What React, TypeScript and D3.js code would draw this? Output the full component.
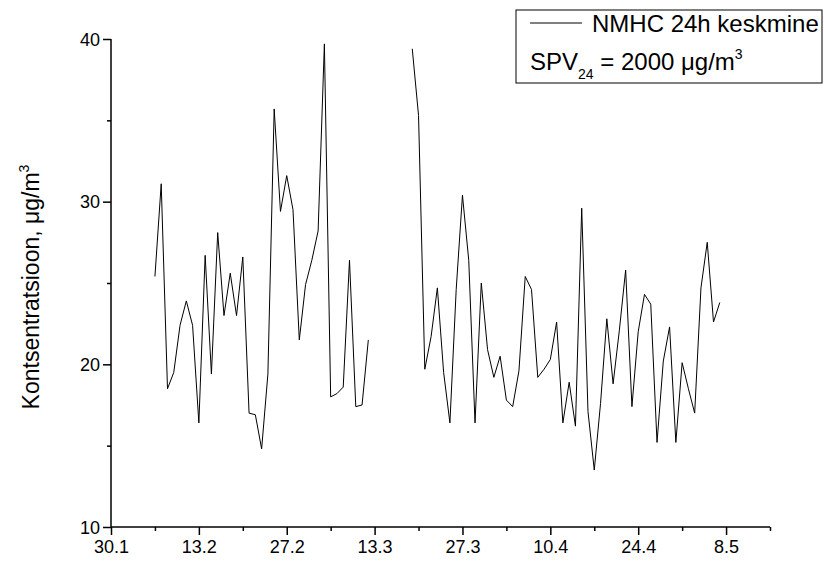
import React, { useEffect, useRef } from "react";
import * as d3 from "d3";

// Day offsets are counted from 30 January (x-axis origin)
const xTickDays = [0, 14, 28, 42, 56, 70, 84, 98];
const xTickLabels = ["30.1", "13.2", "27.2", "13.3", "27.3", "10.4", "24.4", "8.5"];
const yTicks = [10, 20, 30, 40];

const segment1Start = 7;
const segment1Values = [
  25.4, 31.1, 18.5, 19.5, 22.4, 23.9, 22.4, 16.4, 26.7, 19.4,
  28.1, 23.0, 25.6, 23.0, 26.6, 17.0, 16.9, 14.8, 19.4, 35.7,
  29.4, 31.6, 29.5, 21.5, 24.9, 26.4, 28.2, 39.7, 18.0, 18.2,
  18.6, 26.4, 17.4, 17.5, 21.5,
];
const segment2Start = 48;
const segment2Values = [
  39.4, 35.3, 19.7, 21.7, 24.7, 19.5, 16.4, 24.6, 30.4, 26.4,
  16.4, 25.0, 20.9, 19.2, 20.5, 17.8, 17.4, 19.6, 25.4, 24.6,
  19.2, 19.7, 20.3, 22.6, 16.4, 18.9, 16.2, 29.6, 17.1, 13.5,
  17.6, 22.8, 18.8, 22.1, 25.8, 17.4, 22.0, 24.3, 23.7, 15.2,
  20.2, 22.3, 15.2, 20.1, 18.5, 17.0, 24.7, 27.5, 22.6, 23.8,
];

const W = 824;
const H = 565;
const M = { left: 111, right: 770, top: 39, bottom: 527 };
const FONT = "Liberation Sans, Arial, sans-serif";

export default function App() {
  const ref = useRef<SVGSVGElement>(null);
  useEffect(() => {
    const svg = d3.select(ref.current);
    svg.selectAll("*").remove();

    const x = d3.scaleLinear().domain([0, 105]).range([M.left, M.right]);
    const y = d3.scaleLinear().domain([10, 40]).range([M.bottom, M.top]);

    type P = { day: number; v: number };
    const s1: P[] = segment1Values.map((v, i) => ({ day: segment1Start + i, v }));
    const s2: P[] = segment2Values.map((v, i) => ({ day: segment2Start + i, v }));
    const line = d3.line<P>().x((d) => x(d.day)).y((d) => y(d.v));

    [s1, s2].forEach((seg) => {
      svg.append("path").attr("d", line(seg)).attr("fill", "none")
        .attr("stroke", "#000").attr("stroke-width", 1);
    });

    // X axis
    const xAxis = d3.axisBottom(x).tickValues(xTickDays).tickSize(8)
      .tickFormat((d, i) => xTickLabels[i]);
    const gx = svg.append("g").attr("transform", `translate(0,${M.bottom})`).call(xAxis);
    const gxMinor = svg.append("g").attr("transform", `translate(0,${M.bottom})`)
      .call(d3.axisBottom(x).tickValues(xTickDays.map((d) => d + 7)).tickSize(4).tickFormat(() => ""));
    gxMinor.select(".domain").remove();

    // Y axis
    const yAxis = d3.axisLeft(y).tickValues(yTicks).tickSize(8).tickFormat(d3.format("d"));
    const gy = svg.append("g").attr("transform", `translate(${M.left},0)`).call(yAxis);
    const gyMinor = svg.append("g").attr("transform", `translate(${M.left},0)`)
      .call(d3.axisLeft(y).tickValues([15, 25, 35]).tickSize(4).tickFormat(() => ""));
    gyMinor.select(".domain").remove();

    [gx, gy, gxMinor, gyMinor].forEach((g) => {
      g.selectAll("path.domain").attr("stroke", "#000").attr("stroke-width", 1.5);
      g.selectAll(".tick line").attr("stroke", "#000").attr("stroke-width", 1.5);
      g.selectAll(".tick text").attr("font-family", FONT).attr("font-size", 18).attr("fill", "#000");
    });
    gx.select("path.domain").attr("d", `M${M.left},0H${M.right}`);
    gy.select("path.domain").attr("d", `M0,${M.bottom}V${M.top}`);
    gx.selectAll(".tick text").attr("y", 10).attr("dy", "0.9em");
    gy.selectAll(".tick text").attr("x", -11).attr("dy", "0.35em");

    // Y axis title
    const yt = svg.append("text")
      .attr("transform", `translate(39,${(M.top + M.bottom) / 2 + 4}) rotate(-90)`)
      .attr("text-anchor", "middle").attr("font-family", FONT).attr("font-size", 23).attr("fill", "#000");
    yt.append("tspan").text("Kontsentratsioon, \u03bcg/m");
    yt.append("tspan").attr("font-size", 14).attr("dy", -10).text("3");

    // Legend
    const lg = svg.append("g");
    lg.append("rect").attr("x", 516).attr("y", 10).attr("width", 306).attr("height", 73)
      .attr("fill", "#fff").attr("stroke", "#000").attr("stroke-width", 1);
    lg.append("line").attr("x1", 530).attr("x2", 582).attr("y1", 23).attr("y2", 23)
      .attr("stroke", "#000").attr("stroke-width", 1);
    lg.append("text").attr("x", 592).attr("y", 32).attr("font-family", FONT).attr("font-size", 24)
      .attr("fill", "#000").text("NMHC 24h keskmine");
    const t2 = lg.append("text").attr("x", 530).attr("y", 70).attr("font-family", FONT)
      .attr("font-size", 24).attr("fill", "#000");
    t2.append("tspan").text("SPV");
    t2.append("tspan").attr("font-size", 14).attr("dy", 9).text("24");
    t2.append("tspan").attr("dy", -9).text(" = 2000 \u03bcg/m");
    t2.append("tspan").attr("font-size", 14).attr("dy", -11).text("3");
  }, []);

  return (
    <svg ref={ref} width={W} height={H}
      style={{ position: "absolute", left: 0, top: 0, background: "#fff" }} />
  );
}
